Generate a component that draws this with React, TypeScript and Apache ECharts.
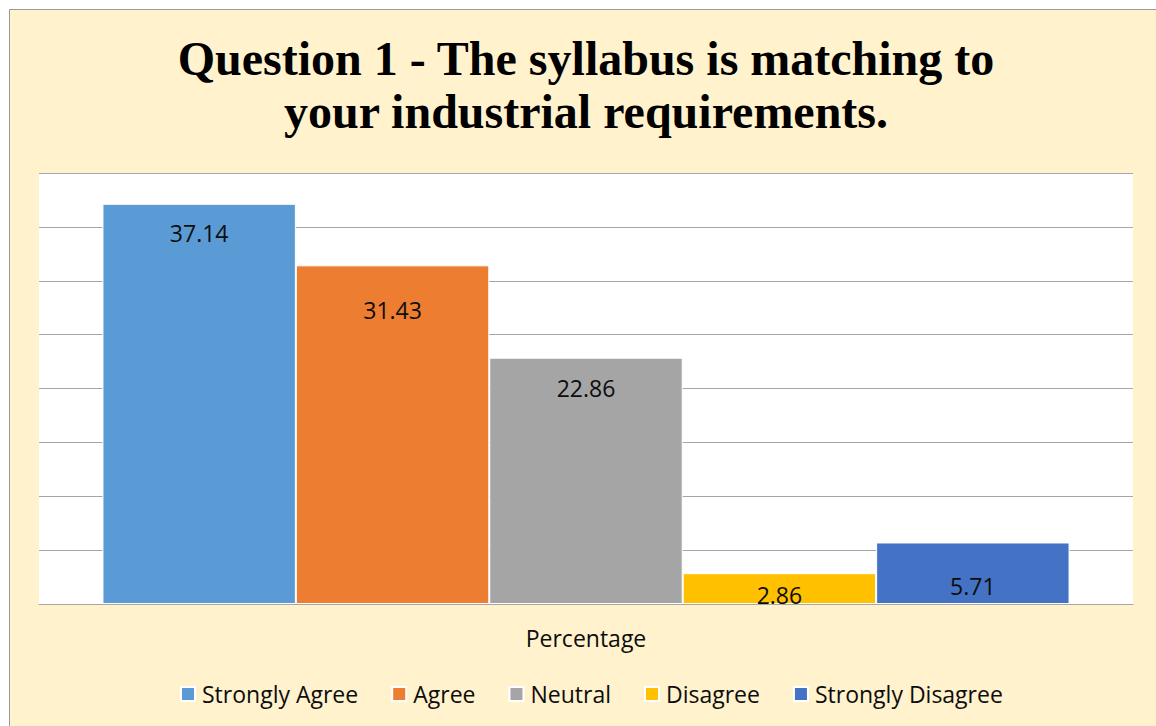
import React, { useEffect, useRef } from "react";
import * as echarts from "echarts";

const titleLines = ["Question 1 - The syllabus is matching to", "your industrial requirements."];
const category = ["Percentage"];
const seriesNames = ["Strongly Agree", "Agree", "Neutral", "Disagree", "Strongly Disagree"];
const seriesValues = [37.14, 31.43, 22.86, 2.86, 5.71];
const seriesColors = ["#5B9BD5", "#ED7D31", "#A5A5A5", "#FFC000", "#4472C4"];
const labelDistances = [18, 33, 19, 10, 32];
const yMin = 0;
const yMax = 40;
const yInterval = 5;

export default function App() {
  const ref = useRef<HTMLDivElement>(null);
  useEffect(() => {
    document.body.style.margin = "0";
    const chart = echarts.init(ref.current!, null, { renderer: "svg" });
    const font = "'Open Sans', sans-serif";
    chart.setOption({
      animation: false,
      backgroundColor: "#ffffff",
      graphic: [
        {
          type: "rect",
          z: -10,
          silent: true,
          shape: { x: 9.5, y: 9.5, width: 1170, height: 740 },
          style: { fill: "#FFF2CC", stroke: "#999999", lineWidth: 1 },
        },
      ],
      title: {
        text: titleLines.join("\n"),
        left: 586,
        textAlign: "center",
        top: 32,
        padding: 0,
        textStyle: {
          fontFamily: "'Liberation Serif', 'Times New Roman', serif",
          fontWeight: "bold",
          fontSize: 48,
          lineHeight: 53,
          color: "#000000",
        },
      },
      grid: {
        left: 39,
        right: 23,
        top: 173,
        bottom: 122,
        show: true,
        backgroundColor: "#ffffff",
        borderWidth: 0,
      },
      legend: {
        data: seriesNames,
        left: 180,
        top: 680,
        padding: 0,
        itemWidth: 14,
        itemHeight: 14,
        itemGap: 33,
        icon: "rect",
        textStyle: {
          fontFamily: font,
          fontSize: 23,
          lineHeight: 28,
          color: "#0d0d0d",
          padding: [0, 0, 0, 2],
        },
      },
      xAxis: {
        type: "category",
        data: category,
        axisLine: { show: true, lineStyle: { color: "#a6a6a6", width: 1 } },
        axisTick: { show: false },
        axisLabel: {
          margin: 20,
          fontFamily: font,
          fontSize: 23,
          lineHeight: 28,
          color: "#0d0d0d",
        },
      },
      yAxis: {
        type: "value",
        min: yMin,
        max: yMax,
        interval: yInterval,
        axisLabel: { show: false },
        axisLine: { show: false },
        axisTick: { show: false },
        splitLine: { show: true, lineStyle: { color: "#a6a6a6", width: 1 } },
      },
      series: seriesNames.map((name, i) => ({
        name,
        type: "bar",
        data: [seriesValues[i]],
        barGap: "0%",
        barCategoryGap: "11.6%",
        itemStyle: { color: seriesColors[i], borderColor: "#ffffff", borderWidth: 1 },
        label: {
          show: true,
          position: "insideTop",
          distance: labelDistances[i],
          fontFamily: font,
          fontSize: 23,
          color: "#0d0d0d",
          formatter: (p: any) => p.value.toFixed(2),
        },
      })),
    });
    return () => chart.dispose();
  }, []);
  return <div ref={ref} style={{ width: 1156, height: 726 }} />;
}
